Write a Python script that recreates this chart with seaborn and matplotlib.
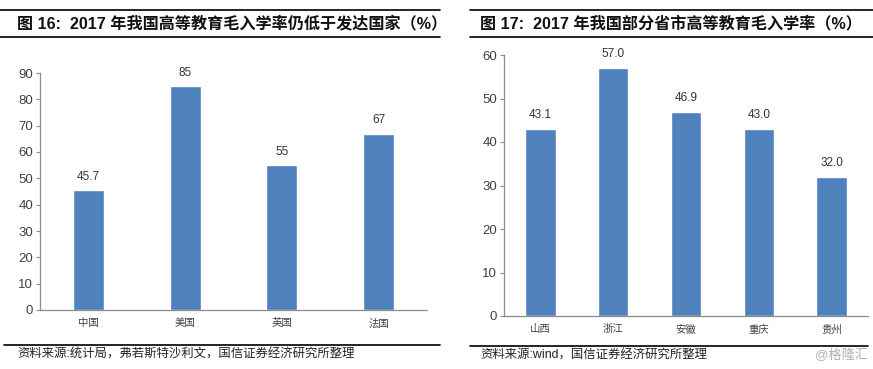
import numpy as np
import pandas as pd
import matplotlib
matplotlib.use("Agg")
import matplotlib.pyplot as plt
import seaborn as sns

# 图16 数据
paises = ["中国", "美国", "英国", "法国"]
tasa_paises = [45.7, 85, 55, 67]
etiquetas_paises = ["45.7", "85", "55", "67"]

# 图17 数据
provincias = ["山西", "浙江", "安徽", "重庆", "贵州"]
tasa_provincias = [43.1, 57.0, 46.9, 43.0, 32.0]

sns.set_style("white")
plt.rcParams['font.family'] = ['Liberation Sans', 'Noto Sans CJK SC', 'DejaVu Sans']

W, H = 873, 369
fig = plt.figure(figsize=(W / 100, H / 100), dpi=100)
fig.patch.set_facecolor("white")

azul = "#4F81BD"
gris = "#404040"


def caja(x0, y_top, x1, y_bottom):
    # devuelve [left, bottom, width, height] en fracciones a partir de píxeles
    return [x0 / W, 1 - y_bottom / H, (x1 - x0) / W, (y_bottom - y_top) / H]


def hline(y, x0, x1, lw=1.2):
    fig.add_artist(plt.Line2D([x0 / W, x1 / W], [1 - y / H, 1 - y / H],
                              color="black", lw=lw, transform=fig.transFigure))


def dibujar(ax, cats, vals, labels, ymax, paso, ancho):
    df = pd.DataFrame({"cat": cats, "val": vals})
    sns.barplot(data=df, x="cat", y="val", color=azul, saturation=1,
                width=ancho, ax=ax)
    ax.set_ylim(0, ymax)
    ax.set_yticks(np.arange(0, ymax + 1, paso))
    ax.set_xlabel("")
    ax.set_ylabel("")
    for s in ["top", "right"]:
        ax.spines[s].set_visible(False)
    for s in ["left", "bottom"]:
        ax.spines[s].set_color("#8c8c8c")
        ax.spines[s].set_linewidth(0.9)
    ax.tick_params(axis="y", length=3, color="#8c8c8c", labelsize=9.5,
                   labelcolor=gris, pad=2, left=True)
    ax.tick_params(axis="x", length=0, labelsize=7.5, labelcolor=gris, pad=6)
    for i, (v, t) in enumerate(zip(vals, labels)):
        ax.text(i, v + ymax * 0.03, t, ha="center", va="bottom",
                fontsize=8.5, color="#333333")


ax1 = fig.add_axes(caja(40, 73, 427, 310))
dibujar(ax1, paises, tasa_paises, etiquetas_paises, 90, 10, 0.32)

ax2 = fig.add_axes(caja(504, 55, 868, 316))
dibujar(ax2, provincias, tasa_provincias,
        [f"{v:.1f}" for v in tasa_provincias], 60, 10, 0.42)

# títulos con líneas
hline(10, 0, 440)
hline(37, 0, 440)
fig.text(17 / W, 1 - 23 / H, "图 16:  2017 年我国高等教育毛入学率仍低于发达国家（%）",
         fontsize=11.6, fontweight="bold", va="center", ha="left", color="#111111")

hline(10, 470, 873)
hline(37, 470, 873)
fig.text(480 / W, 1 - 23 / H, "图 17:  2017 年我国部分省市高等教育毛入学率（%）",
         fontsize=11.6, fontweight="bold", va="center", ha="left", color="#111111")

# fuentes
hline(345, 4, 440)
fig.text(17 / W, 1 - 355 / H, "资料来源:统计局，弗若斯特沙利文，国信证券经济研究所整理",
         fontsize=8.9, va="center", ha="left", color="#222222")

hline(346, 470, 868)
fig.text(480 / W, 1 - 355 / H, "资料来源:wind，国信证券经济研究所整理",
         fontsize=8.9, va="center", ha="left", color="#222222")
fig.text(868 / W, 1 - 355 / H, "@格隆汇", fontsize=9.5, va="center", ha="right",
         color="#b0b0b0")

plt.savefig("out.png", dpi=100)
